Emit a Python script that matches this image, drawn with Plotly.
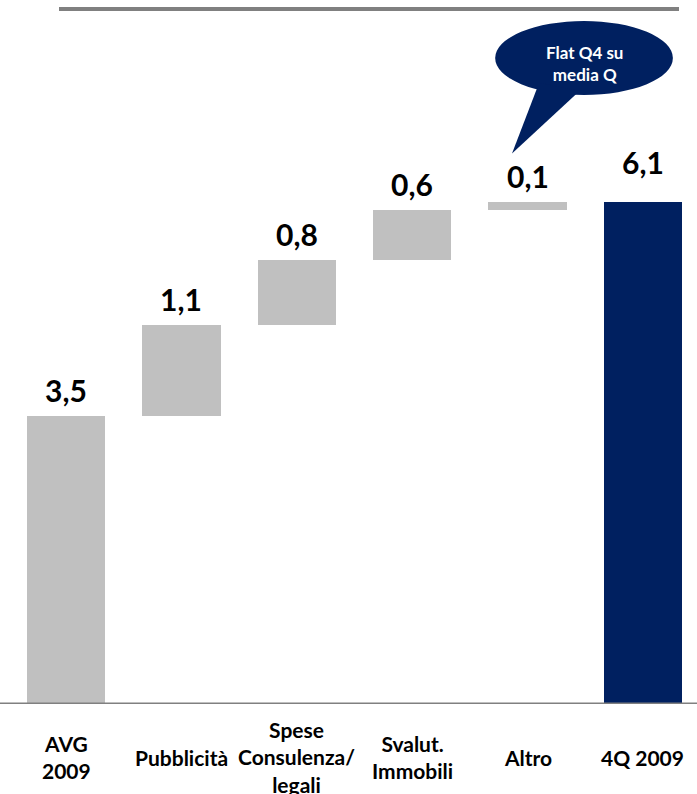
import plotly.graph_objects as go

# Waterfall: average 2009 quarter to Q4 2009 (values in €m)
categories = ["AVG<br>2009", "Pubblicità", "Spese<br>Consulenza/<br>legali",
              "Svalut.<br>Immobili", "Altro", "4Q 2009"]
values = [3.5, 1.1, 0.8, 0.6, 0.1, 6.1]
value_labels = ["3,5", "1,1", "0,8", "0,6", "0,1", "6,1"]
bar_kind = ["total", "step", "step", "step", "step", "total"]
callout_text = "Flat Q4 su<br>media Q"

GREY = "#C0C0C0"
NAVY = "#002060"
LINE = "#808080"
FONT = "Lato"

# floating bases for the step bars
bases = []
running = 0.0
for v, k in zip(values, bar_kind):
    if k == "total":
        bases.append(0.0)
        running = v
    else:
        bases.append(round(running, 2))
        running += v
tops = [b + v for b, v in zip(bases, values)]
colors = [NAVY if (k == "total" and i == len(values) - 1) else GREY
          for i, k in enumerate(bar_kind)]

xs = list(range(len(categories)))

fig = go.Figure()
fig.add_trace(go.Bar(
    x=xs, y=values, base=bases, marker=dict(color=colors, line=dict(width=0)),
    width=0.68, hoverinfo="skip", showlegend=False,
))

annotations = []
label_shift = [6, 6, 6, 6, 6, 20]
for x, t, lab, sh in zip(xs, tops, value_labels, label_shift):
    annotations.append(dict(x=x, y=t, xref="x", yref="y", text=f"<b>{lab}</b>",
                            showarrow=False, yanchor="bottom", yshift=sh,
                            font=dict(family=FONT, size=30, color="#000000")))
for x, c in zip(xs, categories):
    annotations.append(dict(x=x, y=0, xref="x", yref="paper", text=f"<b>{c}</b>",
                            showarrow=False, yanchor="middle", yshift=-53,
                            font=dict(family=FONT, size=21, color="#000000")))

# speech bubble pointing at "Altro"
ecx, ecy, erx, ery = 4.489, 7.85, 0.77, 0.45
annotations.append(dict(x=ecx, y=ecy, xref="x", yref="y", text=f"<b>{callout_text}</b>",
                        showarrow=False, yshift=-5,
                        font=dict(family=FONT, size=17, color="white")))

shapes = [
    dict(type="circle", xref="x", yref="y", x0=ecx - erx, x1=ecx + erx,
         y0=ecy - ery, y1=ecy + ery, fillcolor=NAVY, line=dict(width=0), layer="above"),
    dict(type="path", xref="x", yref="y",
         path=f"M 4.10 7.55 L 3.865 6.69 L 4.45 7.45 Z",
         fillcolor=NAVY, line=dict(width=0), layer="above"),
    # baseline
    dict(type="line", xref="paper", yref="y", x0=0, x1=1, y0=0, y1=0,
         line=dict(color=LINE, width=3)),
    # top rule
    dict(type="line", xref="paper", yref="paper", x0=59 / 697, x1=679 / 697,
         y0=1.0 - 9 / 704, y1=1.0 - 9 / 704, line=dict(color=LINE, width=4)),
]

fig.update_layout(
    width=697, height=794,
    margin=dict(l=0, r=0, t=0, b=90),
    plot_bgcolor="white", paper_bgcolor="white",
    xaxis=dict(range=[-0.572, 5.468], showgrid=False, zeroline=False,
               showticklabels=False, ticks="", fixedrange=True),
    yaxis=dict(range=[0, 8.555], showgrid=False, zeroline=False,
               showticklabels=False, ticks="", fixedrange=True),
    annotations=annotations, shapes=shapes, bargap=0,
)

fig.write_html("out.html")
